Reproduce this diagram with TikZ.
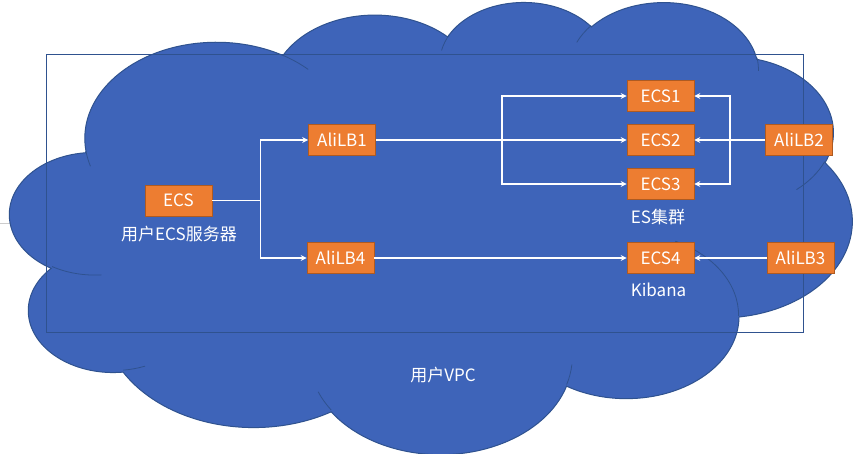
\documentclass[tikz,border=0pt]{standalone}
\usepackage{fontspec}
\setmainfont{Noto Sans CJK SC}
\usetikzlibrary{arrows.meta}
\definecolor{cloudfill}{RGB}{62,100,185}
\definecolor{cloudline}{RGB}{47,82,143}
\definecolor{boxfill}{RGB}{237,125,49}
\definecolor{boxline}{RGB}{174,90,33}
\begin{document}
\begin{tikzpicture}[x=1pt,y=-1pt,
  declare function={pa(\w,\h,\t)=atan2(\w*sin(\t),\h*cos(\t));},
  carc/.style n args={4}{x radius=#1, y radius=#2,
     start angle={pa(#1,#2,#3)},
     delta angle={mod(pa(#1,#2,#3+#4)-pa(#1,#2,#3)+720,360)}},
  box/.style={fill=boxfill, draw=boxline, line width=0.7pt, minimum width=67pt,
     minimum height=31pt, inner sep=0pt, text=white, font=\fontsize{17}{20}\selectfont},
  lbl/.style={text=white, inner sep=0pt, font=\fontsize{17}{20}\selectfont},
  conn/.style={draw=white, line width=1.6pt},
  arr/.style={conn, -{Stealth[length=6pt,width=6pt]}}]
\fill[white] (0,0) rectangle (866,454);
\useasboundingbox (0,0) rectangle (866,454);
\draw[black!20, line width=1pt] (0,223) -- (14,223);
% cloud
\begin{scope}[shift={(10,1)}, xscale=19.4907, yscale=10.463]
\fill[cloudfill, draw=cloudline, line width=1pt] (3.900,14.370)
  arc[carc={6.753}{9.190}{-190.48748}{123.78053}]
  arc[carc={5.333}{7.267}{-144.10238}{89.94523}]
  arc[carc={4.365}{5.945}{-145.80792}{99.72302}]
  arc[carc={4.857}{6.595}{-130.98607}{117.24173}]
  arc[carc={5.333}{7.273}{-78.70888}{109.02692}]
  arc[carc={6.775}{9.220}{-46.26725}{130.26900}]
  arc[carc={5.785}{7.867}{0.62502}{114.03333}]
  arc[carc={6.752}{9.215}{22.45160}{115.17255}]
  arc[carc={7.720}{10.543}{66.24263}{75.71102}]
  arc[carc={4.360}{5.918}{-274.94208}{146.73557}]
  arc[carc={4.345}{5.945}{-246.82850}{152.51885}]
  -- cycle;
\draw[cloudline, line width=0.8pt]
  (4.693,26.177) arc[carc={4.345}{5.945}{86.74200}{26.42950}]
  (6.928,34.899) arc[carc={4.360}{5.918}{73.61047}{11.44747}]
  (16.478,39.090) arc[carc={6.752}{9.215}{137.62415}{14.08110}]
  (28.827,34.751) arc[carc={6.752}{9.215}{6.45327}{15.99835}]
  (34.129,22.954) arc[carc={5.785}{7.867}{-70.29235}{70.91737}]
  (41.798,15.354) arc[carc={5.333}{7.273}{30.31803}{27.75150}]
  (38.324,5.426) arc[carc={4.857}{6.595}{-13.74433}{14.85890}]
  (29.078,3.952) arc[carc={4.857}{6.595}{-149.18145}{18.19537}]
  (22.141,4.720) arc[carc={4.365}{5.945}{-163.49427}{19.01300}]
  (14.000,5.192) arc[carc={6.753}{9.190}{-66.70695}{12.31935}]
  (4.127,15.789) arc[carc={6.753}{9.190}{157.65435}{11.85817}];
\end{scope}
% VPC rectangle
\draw[cloudline, line width=1pt] (46,55) rectangle (803,332);
% nodes
\node[box] (ecs) at (178.5,200.5) {ECS};
\node[box] (lb1) at (342,140) {AliLB1};
\node[box] (lb4) at (340.5,258) {AliLB4};
\node[box] (ecs1) at (660.5,96) {ECS1};
\node[box] (ecs2) at (660.5,140) {ECS2};
\node[box] (ecs3) at (660.5,184) {ECS3};
\node[box] (ecs4) at (660.5,258) {ECS4};
\node[box] (lb2) at (799,140) {AliLB2};
\node[box] (lb3) at (800.5,258) {AliLB3};
\node[lbl] (ecslbl) at (179,234) {用户ECS服务器};
\node[lbl] (eslbl) at (658,217) {ES集群};
\node[lbl] (kib) at (658.5,290) {Kibana};
\node[lbl] (vpc) at (443,375) {用户VPC};
% junctions
\coordinate (j1) at (260.5,200.5);
\coordinate (j2) at (502,140);
\coordinate (j3) at (730,140);
% connectors
\draw[conn] (ecs) -- (j1);
\draw[conn] (j1 |- lb1) -- (j1 |- lb4);
\draw[arr] (j1) |- (lb1);
\draw[arr] (j1) |- (lb4);
\draw[arr] (lb1) -- (ecs2);
\draw[conn] (j2 |- ecs1) -- (j2 |- ecs3);
\draw[arr] (j2) |- (ecs1);
\draw[arr] (j2) |- (ecs3);
\draw[conn] (lb2) -- (j3);
\draw[conn] (j3 |- ecs1) -- (j3 |- ecs3);
\draw[arr] (j3) -- (ecs2);
\draw[arr] (j3) |- (ecs1);
\draw[arr] (j3) |- (ecs3);
\draw[arr] (lb4) -- (ecs4);
\draw[arr] (lb3) -- (ecs4);
\end{tikzpicture}
\end{document}
